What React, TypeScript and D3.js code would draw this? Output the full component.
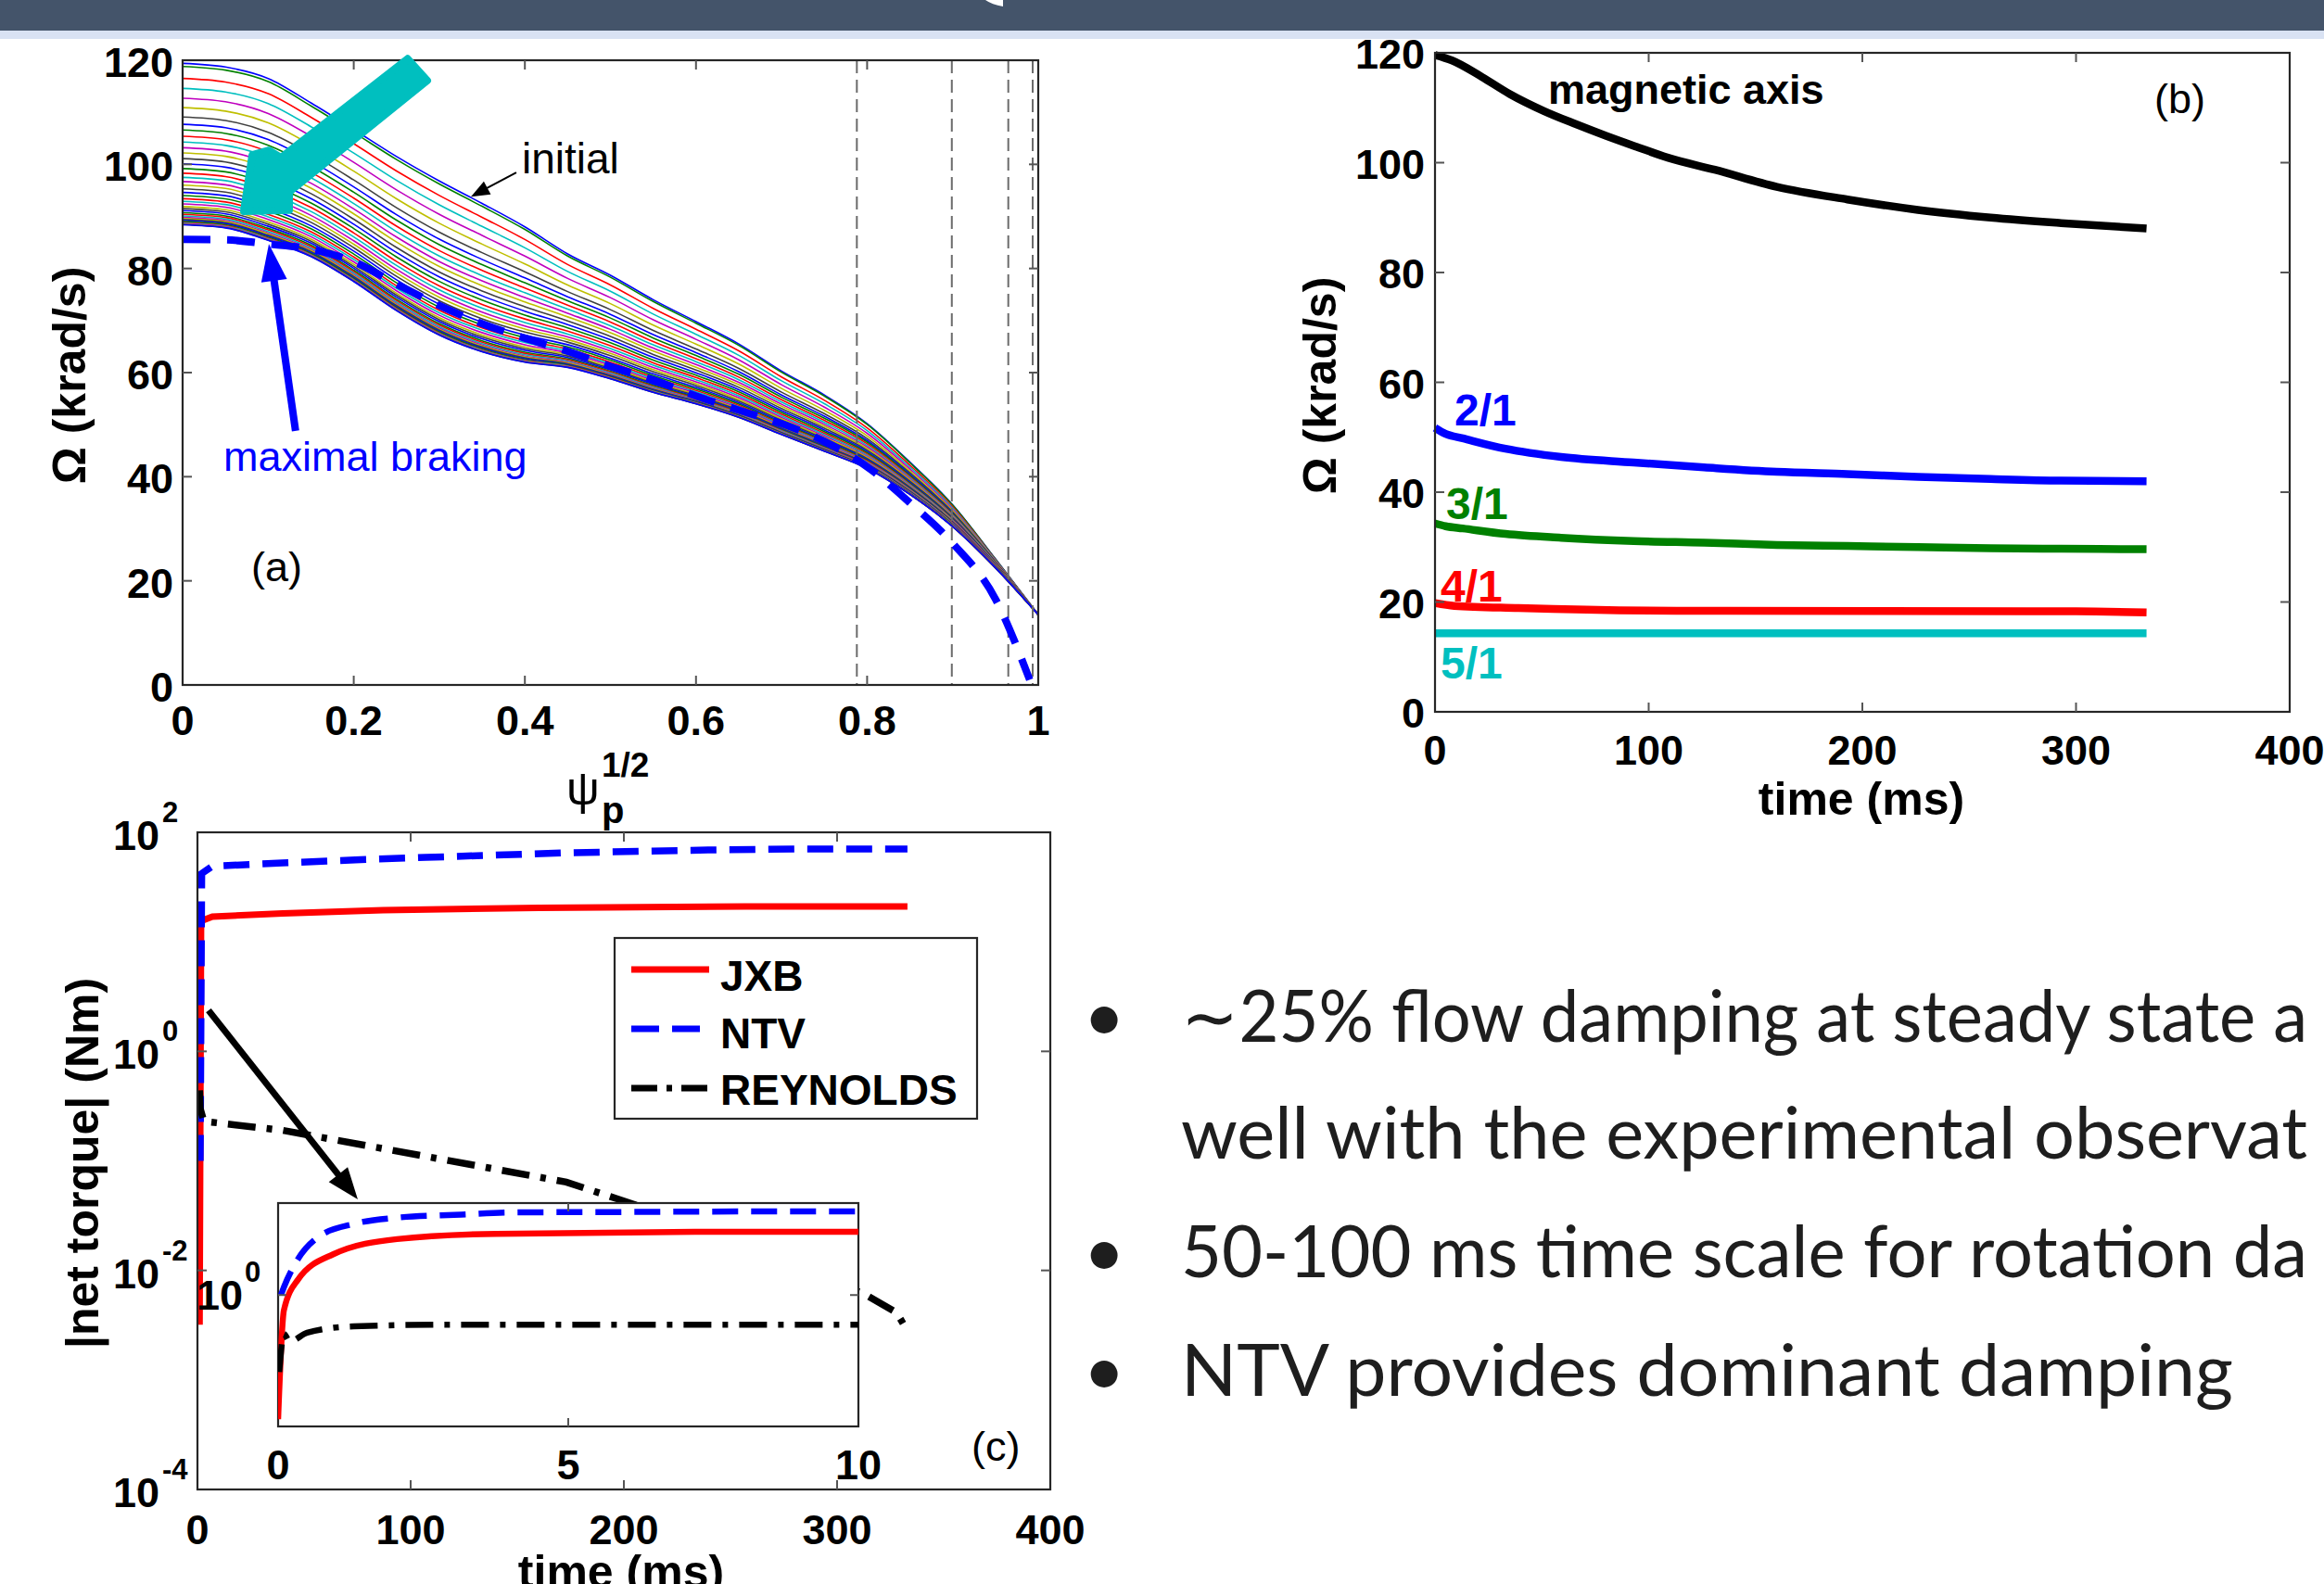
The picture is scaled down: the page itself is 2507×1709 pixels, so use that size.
import React from "react";
import * as d3 from "d3";

/* ---------------- panel (a): rotation profiles ---------------- */
const PSI = [0, 0.05, 0.1, 0.15, 0.2, 0.25, 0.3, 0.35, 0.4, 0.45, 0.5, 0.55, 0.6, 0.65, 0.7, 0.75, 0.8, 0.85, 0.9, 0.95, 1.0];
const OMEGA_INITIAL = [119.4, 118.7, 116.5, 111.8, 106.7, 101.5, 96.8, 92.5, 88.0, 82.8, 78.7, 74.0, 69.8, 65.5, 60.3, 55.7, 50.2, 42.8, 34.6, 24.2, 13.5];
const OMEGA_LATE = [88.4, 87.8, 85.4, 82.3, 77.5, 71.9, 67.2, 64.0, 62.0, 61.0, 58.8, 56.2, 54.0, 51.4, 48.1, 44.9, 41.6, 36.6, 30.4, 22.5, 13.5];
// on-axis value (psi = 0) of every plotted profile, top (initial) to bottom
const PROFILE_AXIS_OMEGA = [119.4, 118.8, 116.5, 114.6, 112.7, 110.9, 109.1, 107.7, 106.6, 105.4, 104.3, 103.2, 102.2, 101.1, 100.1, 99.2, 98.3, 97.5, 96.7, 96.0, 95.3, 94.6, 94.0, 93.4, 92.9, 92.4, 91.9, 91.5, 91.1, 90.7, 90.4, 90.1, 89.8, 89.6, 89.4, 89.2, 89.0, 88.8, 88.7, 88.6, 88.5, 88.45, 88.4];
const BRAKING_PSI = [0, 0.05, 0.1, 0.15, 0.2, 0.25, 0.3, 0.35, 0.4, 0.45, 0.5, 0.55, 0.6, 0.65, 0.7, 0.75, 0.8, 0.85, 0.9, 0.95, 0.99];
const BRAKING_OMEGA = [85.6, 85.5, 84.7, 83.7, 81.3, 77.0, 72.9, 69.4, 66.6, 64.1, 61.2, 58.6, 55.5, 52.8, 50.2, 46.8, 41.9, 35.0, 27.2, 16.5, 1.0];
const RATIONAL_SURFACES = [0.788, 0.899, 0.965, 0.9935];
const A_XTICKS = [0, 0.2, 0.4, 0.6, 0.8, 1];
const A_YTICKS = [0, 20, 40, 60, 80, 100, 120];

/* ---------------- panel (b): rotation vs time ---------------- */
const AXIS_T = [0, 8, 22, 35, 51, 66, 80, 95, 109, 131, 160, 193, 226, 260, 293, 333];
const AXIS_OMEGA = [119.6, 118.6, 115.6, 112.5, 109.4, 107.0, 104.9, 102.8, 100.9, 98.7, 95.6, 93.3, 91.4, 90.0, 89.0, 88.0];
const Q21_T = [0, 5, 13, 33, 59, 93, 126, 160, 193, 226, 260, 293, 333];
const Q21_OMEGA = [51.7, 50.6, 49.8, 47.9, 46.4, 45.4, 44.5, 43.7, 43.3, 42.8, 42.4, 42.1, 42.0];
const Q31_T = [0, 5, 13, 33, 59, 93, 126, 160, 193, 226, 260, 293, 333];
const Q31_OMEGA = [34.3, 33.8, 33.4, 32.4, 31.7, 31.1, 30.8, 30.4, 30.2, 30.0, 29.8, 29.7, 29.6];
const Q41_T = [0, 9, 39, 113, 300, 333];
const Q41_OMEGA = [19.8, 19.3, 18.9, 18.4, 18.3, 18.1];
const Q51_T = [0, 333];
const Q51_OMEGA = [14.3, 14.3];
const B_XTICKS = [0, 100, 200, 300, 400];
const B_YTICKS = [0, 20, 40, 60, 80, 100, 120];

/* ---------------- panel (c): net torques ---------------- */
const JXB_T = [1.0, 1.7, 7, 40, 87, 160, 257, 333];
const JXB_TQ = [0.0032, 15.5, 17, 18.2, 19.5, 20.4, 21.0, 21.0];
const NTV_T = [1.3, 2, 7, 40, 74, 107, 140, 173, 207, 240, 280, 333];
const NTV_TQ = [0.1, 42, 49, 52.5, 56, 59, 62, 65, 67, 69, 70.5, 70.5];
const REY_T = [1.0, 1.3, 3, 40, 107, 173, 197, 250, 290, 312, 328, 333];
const REY_TQ = [0.44, 0.3, 0.23, 0.19, 0.11, 0.064, 0.045, 0.02, 0.009, 0.0062, 0.0041, 0.0028];
const JXB_IN_T = [0.0, 0.1, 0.34, 0.95, 2.05, 3.76, 7.43, 10];
const JXB_IN_TQ = [0.0035, 0.5, 2.0, 6.4, 12.8, 16.3, 17.8, 17.8];
const NTV_IN_T = [0.05, 0.1, 0.34, 0.71, 1.32, 2.05, 3.15, 4.0, 6, 8, 10];
const NTV_IN_TQ = [1.0, 1.43, 5.1, 14.5, 25.8, 34, 39, 43, 44, 45, 45];
const REY_IN_T = [0.02, 0.1, 0.2, 0.5, 1.3, 3, 10];
const REY_IN_TQ = [0.03, 0.17, 0.12, 0.18, 0.24, 0.26, 0.26];
const C_XTICKS = [0, 100, 200, 300, 400];
const C_YTICKS = [1e-4, 1e-2, 1e0, 1e2];
const INSET_XTICKS = [0, 5, 10];
const LEGEND = ["JXB", "NTV", "REYNOLDS"];

// slide text, as far as it is visible on the slide (it runs off the right edge)
const BULLETS = [
  "\u223C25% flow damping at steady state a",
  "well with the experimental observat",
  "50-100 ms time scale for rotation da",
  "NTV provides dominant damping",
];

const MATLAB = ["#0000FF", "#008000", "#FF0000", "#00BFBF", "#BF00BF", "#BFBF00", "#404040"];
const FONT = "'Liberation Sans', Arial, Helvetica, sans-serif";

const zip = (xs: number[], ys: number[]): [number, number][] => xs.map((x, i) => [x, ys[i]]);

function Frame({ sx, sy, xticks, yticks, len = 10 }: any) {
  const [x0, x1] = sx.range();
  const [y0, y1] = sy.range();
  return (
    <g>
      <rect x={x0} y={y1} width={x1 - x0} height={y0 - y1} fill="none" stroke="#262626" strokeWidth={2.2} />
      {xticks.map((t: number) => (
        <g key={"x" + t}>
          <line x1={sx(t)} x2={sx(t)} y1={y0} y2={y0 - len} stroke="#555" strokeWidth={2} />
          <line x1={sx(t)} x2={sx(t)} y1={y1} y2={y1 + len} stroke="#555" strokeWidth={2} />
        </g>
      ))}
      {yticks.map((t: number) => (
        <g key={"y" + t}>
          <line x1={x0} x2={x0 + len} y1={sy(t)} y2={sy(t)} stroke="#555" strokeWidth={2} />
          <line x1={x1} x2={x1 - len} y1={sy(t)} y2={sy(t)} stroke="#555" strokeWidth={2} />
        </g>
      ))}
    </g>
  );
}

function Arrow({ x1, y1, x2, y2, color, width, head, half }: any) {
  const dx = x2 - x1, dy = y2 - y1, L = Math.hypot(dx, dy);
  const ux = dx / L, uy = dy / L;
  const bx = x2 - ux * head, by = y2 - uy * head;
  const px = -uy, py = ux;
  return (
    <g>
      <line x1={x1} y1={y1} x2={bx + ux * 2} y2={by + uy * 2} stroke={color} strokeWidth={width} />
      <polygon points={`${x2},${y2} ${bx + px * half},${by + py * half} ${bx - px * half},${by - py * half}`} fill={color} />
    </g>
  );
}

export default function App() {
  const W = 2507, H = 1709;

  /* panel (a) */
  const ax = d3.scaleLinear().domain([0, 1]).range([197, 1120]);
  const ay = d3.scaleLinear().domain([0, 120]).range([739, 65]);
  const lineA = d3.line<[number, number]>().x((d) => ax(d[0])).y((d) => ay(d[1])).curve(d3.curveMonotoneX);
  const span0 = OMEGA_INITIAL[0] - OMEGA_LATE[0];
  const profiles = PROFILE_AXIS_OMEGA.map((s) =>
    PSI.map((p, j) => [p, OMEGA_LATE[j] + ((OMEGA_INITIAL[j] - OMEGA_LATE[j]) * (s - OMEGA_LATE[0])) / span0] as [number, number])
  );
  const cyanArrow: [number, number][] = [
    [0.263, 120.3], [0.286, 116.1], [0.1246, 94.7], [0.1246, 91.2], [0.0715, 91.0], [0.0813, 101.8], [0.1008, 102.7], [0.1148, 101.3],
  ];

  /* panel (b) */
  const bx = d3.scaleLinear().domain([0, 400]).range([1548, 2470]);
  const by = d3.scaleLinear().domain([0, 120]).range([768, 57]);
  const lineB = d3.line<[number, number]>().x((d) => bx(d[0])).y((d) => by(d[1])).curve(d3.curveMonotoneX);
  const seriesB = [
    { t: AXIS_T, v: AXIS_OMEGA, c: "#000000" },
    { t: Q21_T, v: Q21_OMEGA, c: "#0000FF" },
    { t: Q31_T, v: Q31_OMEGA, c: "#008000" },
    { t: Q41_T, v: Q41_OMEGA, c: "#FF0000" },
    { t: Q51_T, v: Q51_OMEGA, c: "#00BFBF" },
  ];

  /* panel (c) */
  const cx = d3.scaleLinear().domain([0, 400]).range([213, 1133]);
  const cy = d3.scaleLog().domain([1e-4, 1e2]).range([1607, 898]);
  const lineC = d3.line<[number, number]>().x((d) => cx(d[0])).y((d) => cy(d[1]));
  const ix = d3.scaleLinear().domain([0, 10]).range([300, 926]);
  const iy = d3.scaleLog().domain([Math.pow(10, -2.6), Math.pow(10, 1.82)]).range([1539, 1298]);
  const lineI = d3.line<[number, number]>().x((d) => ix(d[0])).y((d) => iy(d[1])).curve(d3.curveMonotoneX);
  const styles = [
    { c: "#FF0000", dash: "none", w: 7 },
    { c: "#0000FF", dash: "28,14", w: 7.5 },
    { c: "#000000", dash: "30,12,6,12", w: 7.5 },
  ];

  const tick = { fontFamily: FONT, fontWeight: 700, fontSize: 45, fill: "#000" } as const;
  const lab = { fontFamily: FONT, fontWeight: 700, fontSize: 50, fill: "#000" } as const;
  const reg = { fontFamily: FONT, fontWeight: 400, fontSize: 45, fill: "#000" } as const;
  const bulletFont = "Lato, 'Open Sans', sans-serif";
  const bulletY = [1124, 1250, 1378, 1506];
  const bulletLen = [1215, 1215, 1215, 1135];

  return (
    <svg width={W} height={H} viewBox={`0 0 ${W} ${H}`} style={{ position: "absolute", left: 0, top: 0, background: "#fff" }}>
      <rect x={0} y={0} width={W} height={H} fill="#fff" />
      {/* slide banner */}
      <rect x={0} y={0} width={W} height={33} fill="#44546A" />
      <rect x={0} y={33} width={W} height={9} fill="#D9E2F3" />
      <path d="M1063,0 Q1070,5 1082,7 L1082,0 Z" fill="#fff" />

      <defs>
        <clipPath id="clipA"><rect x={197} y={62} width={923} height={680} /></clipPath>
        <clipPath id="clipC"><rect x={213} y={898} width={920} height={709} /></clipPath>
        <clipPath id="clipI"><rect x={300} y={1298} width={626} height={241} /></clipPath>
      </defs>

      {/* ===== panel (a) ===== */}
      <g clipPath="url(#clipA)">
        {profiles.map((p, i) => (
          <path key={i} d={lineA(p) || ""} fill="none" stroke={MATLAB[i % 7]} strokeWidth={1.6} />
        ))}
      </g>
      {RATIONAL_SURFACES.map((s) => (
        <line key={s} x1={ax(s)} x2={ax(s)} y1={ay(120)} y2={ay(0)} stroke="#6B6B6B" strokeWidth={2} strokeDasharray="14,7" />
      ))}
      <path d={lineA(zip(BRAKING_PSI, BRAKING_OMEGA)) || ""} fill="none" stroke="#0000FF" strokeWidth={8} strokeDasharray="30,18" />
      <Frame sx={ax} sy={ay} xticks={[0.2, 0.4, 0.6, 0.8]} yticks={[20, 40, 60, 80, 100]} />
      {A_XTICKS.map((t) => (
        <text key={t} x={ax(t)} y={793} textAnchor="middle" {...tick}>{t === 0 || t === 1 ? String(t) : t.toFixed(1)}</text>
      ))}
      {A_YTICKS.map((t) => (
        <text key={t} x={187} y={ay(t) + 18} textAnchor="end" {...tick}>{t}</text>
      ))}
      <text transform="translate(74,405) rotate(-90)" textAnchor="middle" dy="0.36em" {...lab}>{"\u03A9  (krad/s)"}</text>
      <text x={611} y={868} fontFamily={FONT} fontSize={50} fill="#000">{"\u03C8"}</text>
      <text x={649} y={838} fontFamily={FONT} fontWeight={700} fontSize={37} fill="#000">1/2</text>
      <text x={649} y={888} fontFamily={FONT} fontWeight={700} fontSize={40} fill="#000">p</text>
      <polygon
        points={cyanArrow.map((d) => `${ax(d[0])},${ay(d[1])}`).join(" ")}
        fill="#00BFBF" stroke="#00BFBF" strokeWidth={8} strokeLinejoin="round"
      />
      <Arrow x1={ax(0.39)} y1={ay(98.45)} x2={ax(0.337)} y2={ay(93.8)} color="#000" width={2} head={20} half={8} />
      <text x={563} y={187} {...reg} fontSize={46}>initial</text>
      <Arrow x1={ax(0.132)} y1={ay(48.8)} x2={ax(0.1008)} y2={ay(84.7)} color="#0000FF" width={8} head={40} half={14} />
      <text x={241} y={508} {...reg} fill="#0000FF">maximal braking</text>
      <text x={271} y={627} {...reg}>(a)</text>

      {/* ===== panel (b) ===== */}
      {seriesB.map((s, i) => (
        <path key={i} d={lineB(zip(s.t, s.v)) || ""} fill="none" stroke={s.c} strokeWidth={8.5} />
      ))}
      <Frame sx={bx} sy={by} xticks={[100, 200, 300]} yticks={[20, 40, 60, 80, 100]} />
      {B_XTICKS.map((t) => (
        <text key={t} x={bx(t)} y={825} textAnchor="middle" {...tick}>{t}</text>
      ))}
      {B_YTICKS.map((t) => (
        <text key={t} x={1537} y={by(t) + 17} textAnchor="end" {...tick}>{t}</text>
      ))}
      <text transform="translate(1423,416) rotate(-90)" textAnchor="middle" dy="0.36em" {...lab}>{"\u03A9  (krad/s)"}</text>
      <text x={2008} y={879} textAnchor="middle" {...lab}>time (ms)</text>
      <text x={1670} y={112} {...tick}>magnetic axis</text>
      <text x={2324} y={122} {...reg}>(b)</text>
      <text x={1569} y={459} {...tick} fontSize={48} fill="#0000FF">2/1</text>
      <text x={1560} y={560} {...tick} fontSize={48} fill="#008000">3/1</text>
      <text x={1554} y={649} {...tick} fontSize={48} fill="#FF0000">4/1</text>
      <text x={1554} y={732} {...tick} fontSize={48} fill="#00BFBF">5/1</text>

      {/* ===== panel (c) ===== */}
      <g clipPath="url(#clipC)">
        {[zip(JXB_T, JXB_TQ), zip(NTV_T, NTV_TQ), zip(REY_T, REY_TQ)].map((d, i) => (
          <path key={i} d={lineC(d) || ""} fill="none" stroke={styles[i].c} strokeWidth={styles[i].w} strokeDasharray={styles[i].dash} />
        ))}
      </g>
      <Frame sx={cx} sy={cy} xticks={[100, 200, 300]} yticks={[1e-2, 1e0]} />
      {C_XTICKS.map((t) => (
        <text key={t} x={cx(t)} y={1666} textAnchor="middle" {...tick}>{t}</text>
      ))}
      {C_YTICKS.map((t) => (
        <g key={t}>
          <text x={172} y={cy(t) + 19} textAnchor="end" {...tick}>10</text>
          <text x={175} y={cy(t) - 11} {...tick} fontSize={31}>{Math.round(Math.log10(t))}</text>
        </g>
      ))}
      <text transform="translate(88,1255) rotate(-90)" textAnchor="middle" dy="0.36em" {...lab}>|net torque| (Nm)</text>
      <text x={670} y={1713} textAnchor="middle" {...lab}>time (ms)</text>
      {/* legend */}
      <rect x={663} y={1012} width={391} height={195} fill="#fff" stroke="#262626" strokeWidth={2.2} />
      {LEGEND.map((name, i) => (
        <g key={name}>
          <line x1={681} x2={765} y1={1046 + i * 64} y2={1046 + i * 64} stroke={styles[i].c} strokeWidth={7}
            strokeDasharray={i === 0 ? "none" : i === 1 ? "30,14" : "28,10,6,10"} />
          <text x={777} y={1069 + i * 61.5} {...tick} fontSize={46}>{name}</text>
        </g>
      ))}
      <Arrow x1={cx(5.2)} y1={cy(2.37)} x2={cx(75.2)} y2={cy(0.0446)} color="#000" width={7} head={34} half={13} />
      {/* inset */}
      <rect x={300} y={1298} width={626} height={241} fill="#fff" stroke="#262626" strokeWidth={2.2} />
      <g clipPath="url(#clipI)">
        {[zip(JXB_IN_T, JXB_IN_TQ), zip(NTV_IN_T, NTV_IN_TQ), zip(REY_IN_T, REY_IN_TQ)].map((d, i) => (
          <path key={i} d={lineI(d) || ""} fill="none" stroke={styles[i].c} strokeWidth={6.5} strokeDasharray={styles[i].dash} />
        ))}
      </g>
      {[5].map((t) => (
        <g key={t}>
          <line x1={ix(t)} x2={ix(t)} y1={1539} y2={1530} stroke="#555" strokeWidth={2} />
          <line x1={ix(t)} x2={ix(t)} y1={1298} y2={1307} stroke="#555" strokeWidth={2} />
        </g>
      ))}
      <line x1={300} x2={309} y1={iy(1)} y2={iy(1)} stroke="#555" strokeWidth={2} />
      <line x1={926} x2={917} y1={iy(1)} y2={iy(1)} stroke="#555" strokeWidth={2} />
      {INSET_XTICKS.map((t) => (
        <text key={t} x={ix(t)} y={1596} textAnchor="middle" {...tick}>{t}</text>
      ))}
      <text x={262} y={iy(1) + 16} textAnchor="end" {...tick}>10</text>
      <text x={264} y={iy(1) - 14} {...tick} fontSize={31}>0</text>
      <text x={1048} y={1576} {...reg}>(c)</text>

      {/* ===== bullet text ===== */}
      {BULLETS.map((s, i) => (
        <g key={i}>
          {i !== 1 && (
            <text x={1191} y={bulletY[i]} textAnchor="middle" fontFamily={bulletFont} fontSize={78} fill="#1E1E1E">{"\u2022"}</text>
          )}
          <text x={1274} y={bulletY[i]} fontFamily={bulletFont} fontSize={77} fill="#1E1E1E" textLength={bulletLen[i]} lengthAdjust="spacingAndGlyphs">{s}</text>
        </g>
      ))}
    </svg>
  );
}
